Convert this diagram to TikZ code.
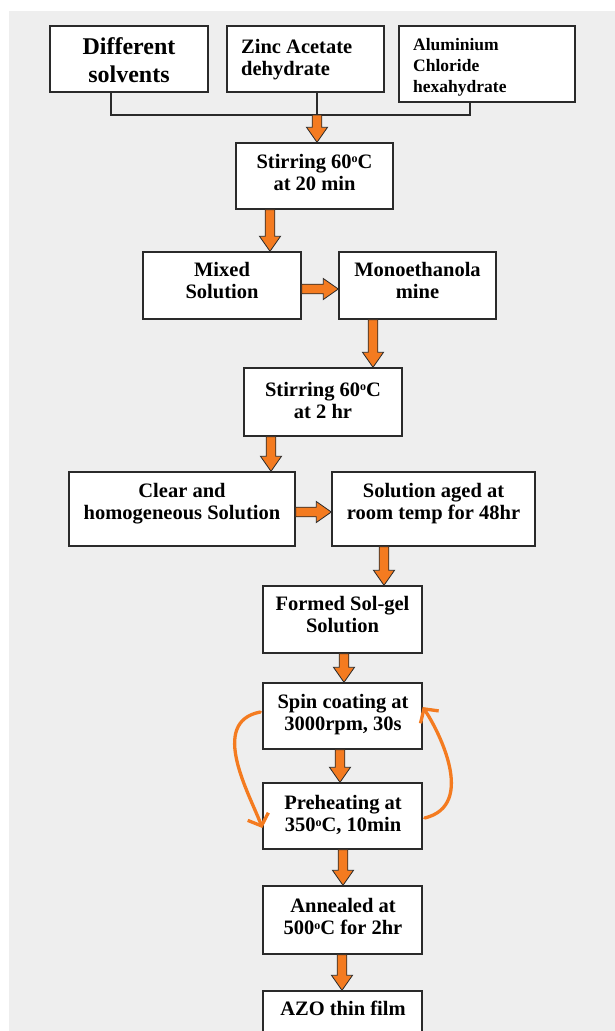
\documentclass[tikz,border=0pt]{standalone}
\usepackage{fontspec}
\setmainfont{Liberation Serif}
\usetikzlibrary{calc,arrows.meta}
\definecolor{bgc}{HTML}{EEEEEE}
\definecolor{orng}{HTML}{F47B20}
\definecolor{edgec}{HTML}{2A2A2A}
\newcommand{\mlc}[1]{\begin{tabular}[t]{@{}c@{}}#1\end{tabular}}
\newcommand{\mll}[1]{\begin{tabular}[t]{@{}l@{}}#1\end{tabular}}
\newcommand{\degc}{\raisebox{0.55ex}{\fontsize{12}{12}\selectfont o}}
\def\bsw{4.8pt}\def\bhw{10.5pt}\def\bhl{15pt}
% vertical block arrow: x (pt), from coordinate, to coordinate
\newcommand{\varr}[3]{\path[barrow] let \p1=(#2), \p2=(#3) in
  (#1pt-\bsw,\y1) -- (#1pt+\bsw,\y1) -- (#1pt+\bsw,\y2+\bhl) -- (#1pt+\bhw,\y2+\bhl)
  -- (#1pt,\y2) -- (#1pt-\bhw,\y2+\bhl) -- (#1pt-\bsw,\y2+\bhl) -- cycle;}
% horizontal block arrow: y (pt, downward), from coordinate, to coordinate
\newcommand{\harr}[3]{\path[barrow] let \p1=(#2), \p2=(#3) in
  (\x1,-#1pt+\bsw) -- (\x2-\bhl,-#1pt+\bsw) -- (\x2-\bhl,-#1pt+\bhw) -- (\x2,-#1pt)
  -- (\x2-\bhl,-#1pt-\bhw) -- (\x2-\bhl,-#1pt-\bsw) -- (\x1,-#1pt-\bsw) -- cycle;}
\tikzset{
  box/.style={draw=edgec, fill=white, line width=1.4pt, rectangle, inner sep=0pt},
  txt/.style={inner sep=0pt, anchor=base, text=black, font=\fontsize{20.5}{22.5}\selectfont\bfseries},
  barrow/.style={fill=orng, draw=edgec, line width=0.8pt, line join=miter},
  conn/.style={draw=edgec, line width=1.5pt},
  loopar/.style={draw=orng, line width=3.3pt, line cap=round, -{Straight Barb[length=10pt,width=22pt,line width=3.3pt]}}
}
\begin{document}
\begin{tikzpicture}[x=1pt,y=-1pt]
\useasboundingbox (0,0) rectangle (615,1031);
\clip (0,0) rectangle (615,1031);
\fill[bgc] (8.5,11) rectangle (615,1031);

% boxes
\node[box, minimum width=158pt, minimum height=66pt] (b1) at (129,59) {};
\node[box, minimum width=157pt, minimum height=66pt] (b2) at (305.5,59) {};
\node[box, minimum width=176pt, minimum height=76pt] (b3) at (487,64) {};
\node[box, minimum width=157pt, minimum height=66pt] (b4) at (314.5,176) {};
\node[box, minimum width=158pt, minimum height=67pt] (b5) at (222,285.5) {};
\node[box, minimum width=157pt, minimum height=67pt] (b6) at (417.5,285.5) {};
\node[box, minimum width=158pt, minimum height=68pt] (b7) at (323,402) {};
\node[box, minimum width=226pt, minimum height=74pt] (b8) at (182,509) {};
\node[box, minimum width=203pt, minimum height=74pt] (b9) at (433.5,509) {};
\node[box, minimum width=159pt, minimum height=67pt] (b10) at (342.5,619.5) {};
\node[box, minimum width=159pt, minimum height=66pt] (b11) at (342.5,716) {};
\node[box, minimum width=159pt, minimum height=66pt] (b12) at (342.5,816) {};
\node[box, minimum width=159pt, minimum height=68pt] (b13) at (342.5,920) {};
\node[box, minimum width=159pt, minimum height=67pt] (b14) at (342.5,1024.5) {};

% texts
\node[txt, font=\fontsize{24}{28}\selectfont\bfseries] (t1) at (129,54) {\mlc{Different\\solvents}};
\node[txt, anchor=base west] (t2) at (241,53) {\mll{Zinc Acetate\\dehydrate}};
\node[txt, anchor=base west, font=\fontsize{17.5}{21}\selectfont\bfseries] (t3) at (413,50) {\mll{Aluminium\\Chloride\\hexahydrate}};
\node[txt] (t4) at (314.5,168) {\mlc{Stirring 60\degc C\\at 20 min}};
\node[txt] (t5) at (222,276) {\mlc{Mixed\\Solution}};
\node[txt] (t6) at (417.5,276) {\mlc{Monoethanola\\mine}};
\node[txt] (t7) at (323,396) {\mlc{Stirring 60\degc C\\at 2 hr}};
\node[txt] (t8) at (182,497) {\mlc{Clear and\\homogeneous Solution}};
\node[txt] (t9) at (433.5,497) {\mlc{Solution aged at\\room temp for 48hr}};
\node[txt] (t10) at (342.5,610) {\mlc{Formed Sol-gel\\Solution}};
\node[txt] (t11) at (343,708) {\mlc{Spin coating at\\3000rpm, 30s}};
\node[txt] (t12) at (343,809) {\mlc{Preheating at\\350\degc C, 10min}};
\node[txt] (t13) at (343,912) {\mlc{Annealed at\\500\degc C for 2hr}};
\node[txt] (t14) at (343,1015) {AZO thin film};

% joining lines
\coordinate (j) at (317,115);
\draw[conn] ($(b1.south)+(-18,0)$) |- (j) -| ($(b3.south)+(-17,0)$);
\draw[conn] ($(b2.south)+(11.5,0)$) -- (j);

% block arrows
\varr{317}{j}{b4.north}
\varr{270}{b4.south}{b5.north}
\harr{289}{b5.east}{b6.west}
\varr{373}{b6.south}{b7.north}
\varr{271}{b7.south}{b8.north}
\harr{512}{b8.east}{b9.west}
\varr{384}{b9.south}{b10.north}
\varr{344}{b10.south}{b11.north}
\varr{340}{b11.south}{b12.north}
\varr{343}{b12.south}{b13.north}
\varr{342}{b13.south}{b14.north}

% loop arrows
\draw[loopar] ($(b11.west)+(-2,-4)$) .. controls (208,722) and (250,795) .. ($(b12.west)+(0,12)$);
\draw[loopar] ($(b12.east)+(2,2)$) .. controls (478,805) and (437,728) .. ($(b11.east)+(0,-9)$);
\end{tikzpicture}
\end{document}
